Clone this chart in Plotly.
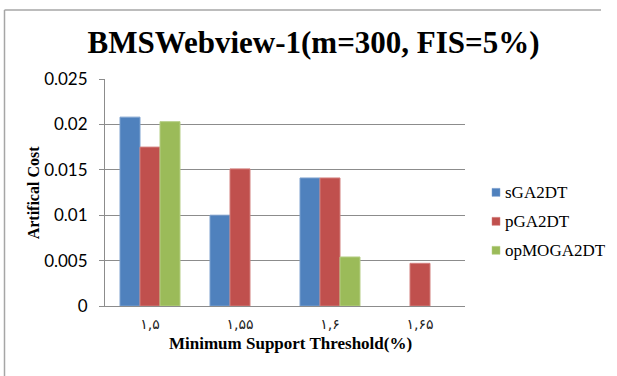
import plotly.graph_objects as go

# Minimum support thresholds (Persian digits, as labelled on the axis)
categories = ["۱,۵", "۱,۵۵", "۱,۶", "۱,۶۵"]

# Artificial cost per algorithm (None = no bar)
sga2dt = [0.0208, 0.0100, 0.0141, None]
pga2dt = [0.0175, 0.0151, 0.0141, 0.0047]
opmoga2dt = [0.0203, None, 0.0054, None]

series = [
    ("sGA2DT", sga2dt, "#4F81BD", "#7DA1CF"),
    ("pGA2DT", pga2dt, "#C0504D", "#D27E7C"),
    ("opMOGA2DT", opmoga2dt, "#9BBB59", "#B5CE85"),
]

W, H = 617, 376
PL, PR, PT, PB = 105, 465, 78.6, 305.7  # plot-area pixel box

fig = go.Figure()
for name, vals, color, edge in series:
    fig.add_trace(go.Bar(
        x=categories, y=vals, name=name,
        marker=dict(color=color, line=dict(color=edge, width=1)),
    ))


def px_x(px):
    return (px - PL) / (PR - PL)


def px_y(py):
    return (PB - py) / (PB - PT)


grid = "#8C8C8C"
frame = "#A6A6A6"

annotations = [
    dict(
        text="<b>Artifical Cost</b>", textangle=-90,
        x=px_x(33), y=px_y(192), xref="paper", yref="paper",
        xanchor="center", yanchor="middle", showarrow=False,
        font=dict(family="Liberation Serif", size=16, color="black"),
    ),
    dict(
        text="<b>Minimum Support Threshold(%)</b>",
        x=px_x(290), y=px_y(343), xref="paper", yref="paper",
        xanchor="center", yanchor="middle", showarrow=False,
        font=dict(family="Liberation Serif", size=17, color="black"),
    ),
]
# chart frame: top and left edges
shapes = [
    dict(type="line", xref="paper", yref="paper",
         x0=px_x(4.5), y0=px_y(9.5), x1=px_x(601), y1=px_y(9.5),
         line=dict(color=frame, width=1.5), layer="below"),
    dict(type="line", xref="paper", yref="paper",
         x0=px_x(4.5), y0=px_y(9.5), x1=px_x(4.5), y1=px_y(H),
         line=dict(color=frame, width=1.5), layer="below"),
]

# legend: colour swatch + series name, one row per series
legend_rows = [192, 221, 250]
for (name, vals, color, edge), ry in zip(series, legend_rows):
    shapes.append(dict(
        type="rect", xref="paper", yref="paper",
        x0=px_x(492), x1=px_x(500), y0=px_y(ry + 4), y1=px_y(ry - 4),
        fillcolor=color, line=dict(color=edge, width=0.5),
    ))
    annotations.append(dict(
        text=name, x=px_x(503), y=px_y(ry), xref="paper", yref="paper",
        xanchor="left", yanchor="middle", showarrow=False,
        font=dict(family="Liberation Serif", size=17, color="black"),
    ))

fig.update_layout(
    width=W, height=H,
    margin=dict(l=PL, r=W - PR, t=PT, b=H - PB, pad=0, autoexpand=False),
    paper_bgcolor="white", plot_bgcolor="white",
    barmode="group", bargap=1 / 3, bargroupgap=0,
    showlegend=False,
    title=dict(
        text="<b>BMSWebview-1(m=300, FIS=5%)</b>",
        x=313.5 / W, xref="container", xanchor="center",
        y=1 - 42 / H, yref="container", yanchor="middle",
        font=dict(family="Liberation Serif", size=31, color="black"),
    ),
    xaxis=dict(
        showline=True, linecolor=grid, linewidth=1,
        showgrid=False, ticks="",
        tickfont=dict(family="DejaVu Sans", size=14, color="#222"),
        ticklabelstandoff=5,
    ),
    yaxis=dict(
        range=[0, 0.025], dtick=0.005, tick0=0,
        showline=True, linecolor=grid, linewidth=1,
        showgrid=True, gridcolor=grid, gridwidth=1, zeroline=False,
        ticks="outside", ticklen=5, tickcolor=grid,
        ticklabelstandoff=8,
        tickfont=dict(family="Lato", size=17, color="black"),
    ),
    annotations=annotations,
    shapes=shapes,
)

fig.write_html("out.html", config={"displayModeBar": False})
